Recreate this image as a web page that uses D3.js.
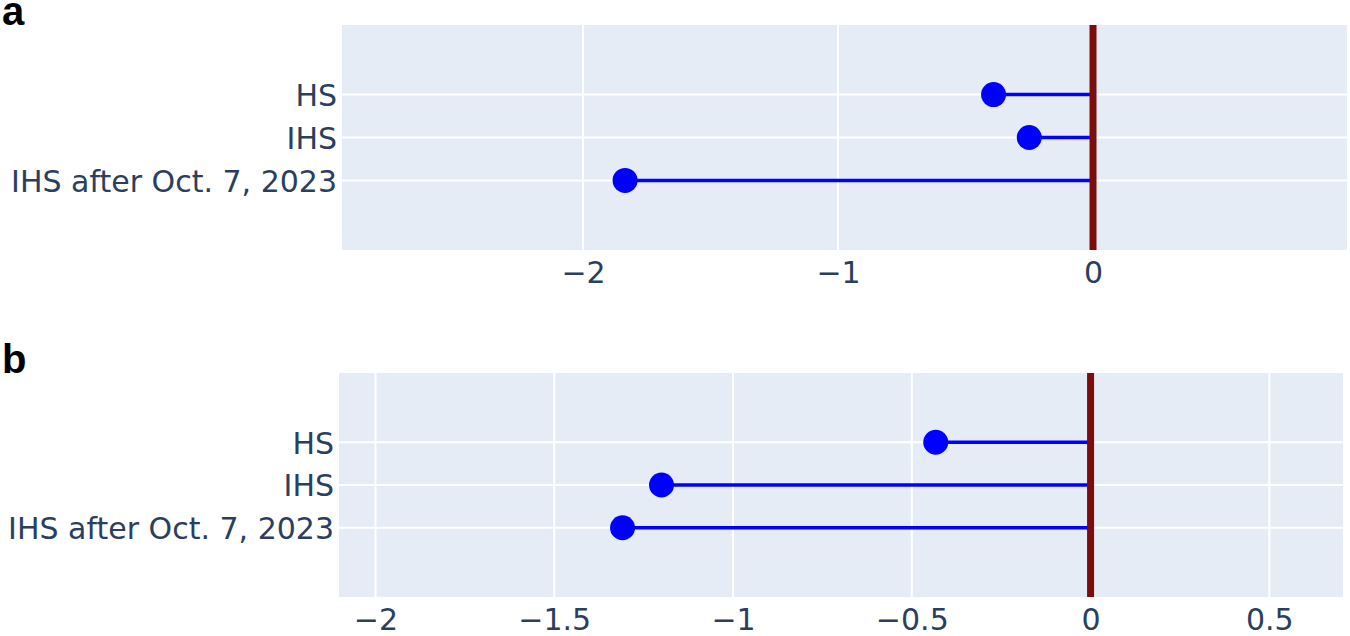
<!DOCTYPE html>
<html>
<head>
<meta charset="utf-8">
<script src="https://cdn.jsdelivr.net/npm/d3@7"></script>
<style>
  body { margin: 0; background: #fff; }
  svg { display: block; }
</style>
</head>
<body>
<div id="chart"></div>
<script>
// categories top to bottom
var categories = ["HS", "IHS", "IHS after Oct. 7, 2023"];

// panel a
var valuesA = [-0.39, -0.25, -1.835];
var ticksA = [-2, -1, 0];
var domainA = [-2.945, 0.996];

// panel b
var valuesB = [-0.433, -1.20, -1.309];
var ticksB = [-2, -1.5, -1, -0.5, 0, 0.5];
var domainB = [-2.102, 0.706];

var W = 1350, H = 636;
var fontFamily = "'DejaVu Sans', Verdana, sans-serif";

var svg = d3.select("#chart").append("svg")
  .attr("width", W)
  .attr("height", H);

function drawPanel(label, values, ticks, domain, box) {
  var g = svg.append("g");

  var x = d3.scaleLinear()
    .domain(domain)
    .range([box.left, box.right]);

  var y = d3.scalePoint()
    .domain(categories)
    .range([box.top, box.bottom])
    .padding(1.62);

  // background
  g.append("rect")
    .attr("x", box.left)
    .attr("y", box.top)
    .attr("width", box.right - box.left)
    .attr("height", box.bottom - box.top)
    .attr("fill", "#e5ecf6");

  // grid
  g.selectAll(".vgrid")
    .data(ticks)
    .enter().append("line")
    .attr("class", "vgrid")
    .attr("x1", function (d) { return x(d); })
    .attr("x2", function (d) { return x(d); })
    .attr("y1", box.top)
    .attr("y2", box.bottom)
    .attr("stroke", "#fff")
    .attr("stroke-width", 2);

  g.selectAll(".hgrid")
    .data(categories)
    .enter().append("line")
    .attr("class", "hgrid")
    .attr("x1", box.left)
    .attr("x2", box.right)
    .attr("y1", function (d) { return y(d); })
    .attr("y2", function (d) { return y(d); })
    .attr("stroke", "#fff")
    .attr("stroke-width", 2);

  // axes
  var xAxis = d3.axisBottom(x)
    .tickValues(ticks)
    .tickSize(0)
    .tickPadding(12)
    .tickFormat(d3.format(""));

  var yAxis = d3.axisLeft(y)
    .tickSize(0)
    .tickPadding(5);

  g.append("g")
    .attr("transform", "translate(0," + box.bottom + ")")
    .call(xAxis)
    .call(function (a) { a.select(".domain").remove(); })
    .selectAll("text")
    .attr("fill", "#2a3f5f")
    .style("font-family", fontFamily)
    .style("font-size", "30px");

  g.append("g")
    .attr("transform", "translate(" + box.left + ",0)")
    .call(yAxis)
    .call(function (a) { a.select(".domain").remove(); })
    .selectAll("text")
    .attr("dy", "0.36em")
    .attr("fill", "#2a3f5f")
    .style("font-family", fontFamily)
    .style("font-size", "30px");

  // stems
  g.selectAll(".stem")
    .data(values)
    .enter().append("line")
    .attr("class", "stem")
    .attr("x1", x(0))
    .attr("x2", function (d) { return x(d); })
    .attr("y1", function (d, i) { return y(categories[i]); })
    .attr("y2", function (d, i) { return y(categories[i]); })
    .attr("stroke", "#0000ff")
    .attr("stroke-width", 3.5);

  // zero line
  g.append("line")
    .attr("x1", x(0))
    .attr("x2", x(0))
    .attr("y1", box.top)
    .attr("y2", box.bottom)
    .attr("stroke", "#7d0c0c")
    .attr("stroke-width", 7);

  // dots
  g.selectAll(".dot")
    .data(values)
    .enter().append("circle")
    .attr("class", "dot")
    .attr("cx", function (d) { return x(d); })
    .attr("cy", function (d, i) { return y(categories[i]); })
    .attr("r", 12.5)
    .attr("fill", "#0000ff");

  // panel letter
  svg.append("text")
    .attr("x", 2)
    .attr("y", box.labelY)
    .attr("fill", "#000")
    .style("font-family", "'Liberation Sans', Arial, sans-serif")
    .style("font-weight", "bold")
    .style("font-size", "40px")
    .text(label);
}

drawPanel("a", valuesA, ticksA, domainA, { left: 342, right: 1347, top: 25, bottom: 250, labelY: 25 });
drawPanel("b", valuesB, ticksB, domainB, { left: 339, right: 1343, top: 373, bottom: 597, labelY: 373 });
</script>
</body>
</html>
